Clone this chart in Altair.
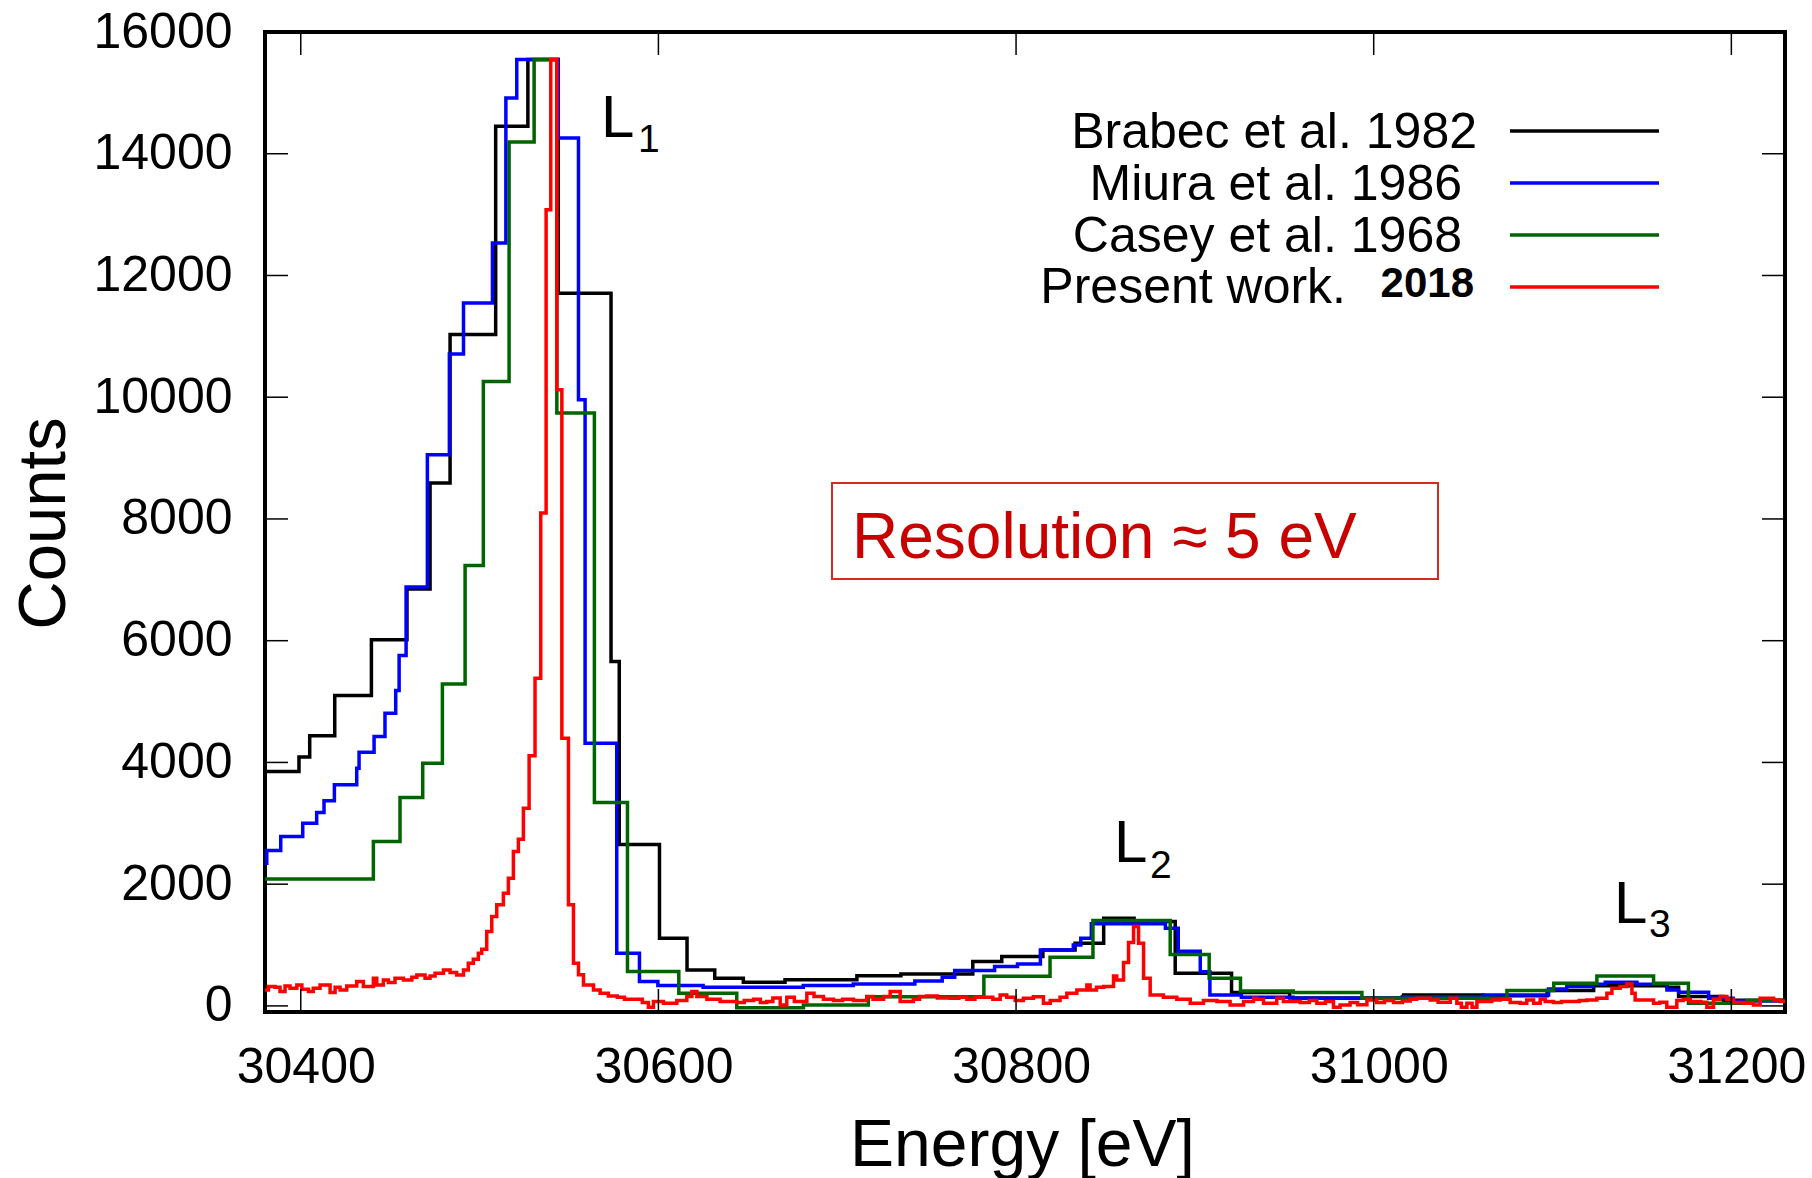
import altair as alt
import pandas as pd

# ---------------- data ----------------
# Brabec et al. 1982 : bin left edges (eV) and counts
BRABEC_E = [30370, 30399, 30405, 30419, 30439.5, 30459.4, 30472.3, 30483.5, 30509, 30527,
            30544, 30573.5, 30578.1, 30600.6, 30616, 30631.5, 30647.5, 30670.8, 30711, 30735.6,
            30775.8, 30792, 30815, 30833, 30849, 30866, 30889, 30920.5, 30953, 31016.7,
            31061, 31097, 31123, 31164, 31170.5, 31195.6, 31240]
BRABEC_C = [3850, 4090, 4440, 5100, 6015, 6848, 8590, 11030, 14450, 15550,
            11710, 5660, 2650, 1110, 590, 455, 390, 430, 495, 525,
            730, 810, 920, 1030, 1440, 1385, 537, 220, 130, 181,
            165, 252, 330, 307, 153, 95, 95]

# Miura et al. 1986
MIURA_E = [30370, 30381, 30388.8, 30401.1, 30408.9, 30413, 30418.8, 30431.3, 30432.6, 30441,
           30447.1, 30453.1, 30455, 30458.9, 30470.8, 30483.1, 30491, 30507.2, 30514.7, 30520.8,
           30544, 30555.3, 30559, 30576.7, 30589.4, 30599.7, 30625, 30681, 30709, 30743.4,
           30758.7, 30765.7, 30788, 30800.8, 30813.6, 30832, 30836.2, 30842.1, 30883.5, 30890.7,
           30903, 30908.4, 30926, 30955, 31016, 31061.4, 31097.8, 31108, 31122.9, 31129.5,
           31147.2, 31164, 31170.5, 31187.3, 31201, 31240]
MIURA_C = [2345, 2553, 2783, 3002, 3177, 3369, 3632, 3906, 4169, 4426,
           4810, 5182, 5757, 6881, 9055, 10710, 11548, 12534, 14917, 15550,
           14259, 9959, 4317, 866, 400, 334, 305, 334, 360, 411,
           470, 580, 646, 690, 920, 1002, 1112, 1350, 1277, 900,
           560, 181, 143, 126, 150, 181, 279, 318, 356, 389,
           356, 263, 225, 126, 80, 80]

# Casey et al. 1968
CASEY_E = [30370, 30440.6, 30455.5, 30468.2, 30479.2, 30491.9, 30502.1, 30516.5, 30530.5, 30543.2,
           30564.2, 30582.7, 30611.4, 30643.8, 30681.1, 30717.4, 30782, 30819, 30843, 30886.2,
           30908, 30925.5, 30955, 30993.4, 31074.5, 31100.7, 31124.8, 31156.5, 31176, 31208.7,
           31240]
CASEY_C = [2087, 2701, 3424, 3988, 5287, 7236, 10260, 14194, 15550, 9740,
           3341, 564, 209, -30, 16, 150, 487, 800, 1405, 845,
           455, 245, 219, 126, 252, 373, 493, 373, 44, 88,
           88]

# Present work 2018 (fine binning), in consecutive pieces
RED_E_LEFT = [30370, 30381.9, 30385.6, 30388.4, 30391.2, 30394, 30397.8, 30400.6, 30404.3, 30407,
              30410.8, 30416.4, 30419.2, 30422, 30425.7, 30431.3, 30435, 30440.6, 30442.5, 30446.2,
              30449, 30452.7, 30457.4, 30462.1, 30464.9, 30469.5, 30472.3, 30475.1, 30479.8, 30483.5,
              30487.2, 30491, 30493.7, 30496.5, 30499.3, 30501.2]
RED_C_LEFT = [263, 318, 307, 235, 329, 290, 345, 274, 235, 290,
              345, 219, 307, 263, 329, 400, 318, 455, 345, 427,
              384, 455, 427, 471, 509, 455, 493, 537, 592, 548,
              509, 592, 701, 767, 866, 931]
RED_E_L1 = [30504, 30506.8, 30509.6, 30513.3, 30516.1, 30518.9, 30521.7, 30524.5, 30527.7, 30531,
            30534.2, 30537.2, 30539.8, 30543.2, 30546, 30549.7, 30552.5, 30555.3, 30558.1, 30563.7]
RED_C_L1 = [1221, 1468, 1660, 1852, 2098, 2536, 2740, 3249, 4108, 5385,
            8096, 13081, 15550, 10123, 4399, 1660, 701, 510, 345, 263]
RED_E_MID = [30567.4, 30572, 30577, 30581, 30586, 30591, 30594.4, 30597.2, 30602.8, 30610.3,
             30615.9, 30618.7, 30621.5, 30627.1, 30634.5, 30643.8, 30648, 30653.2, 30657, 30660.6,
             30664, 30668.1, 30671.8, 30676, 30679.3, 30683, 30687, 30692.3, 30697.9, 30703,
             30709.1, 30716.5, 30720, 30725.9, 30729.6, 30735.2, 30742.6, 30746, 30750.1, 30756,
             30763.2, 30768, 30772.5, 30777, 30781.8, 30787]
RED_C_MID = [209, 164, 142, 110, 110, 55, -22, 71, 44, 88,
             153, 235, 153, 110, 71, 55, 88, 110, 55, 71,
             130, 16, 142, 71, 71, 208, 153, 110, 88, 110,
             88, 153, 110, 153, 235, 71, 110, 153, 164, 130,
             125, 142, 110, 142, 142, 110]
RED_E_L2 = [30791.1, 30794.8, 30799.5, 30804.1, 30809.7, 30815.3, 30819.1, 30824.6, 30828.4, 30834,
            30839.6, 30841.4, 30845, 30849, 30854.5, 30856.3, 30860.1, 30862.9, 30865.7, 30868.5,
            30871.3, 30875, 30882.4, 30889.9, 30897.4, 30904.8, 30912.3, 30919.7, 30927.2, 30932.8]
RED_C_L2 = [181, 142, 88, 126, 150, 44, 88, 142, 208, 263,
            345, 263, 307, 320, 493, 427, 712, 1041, 1304, 1030,
            455, 181, 142, 110, 44, 88, 71, 16, 71, 126]
RED_E_RIGHT = [30934.6, 30938.4, 30945.8, 30949.5, 30958.9, 30964, 30968.2, 30973, 30977.5, 30981.2,
               30986.8, 30991, 30996.2, 31001.7, 31006, 31011.1, 31016, 31020.4, 31024, 31027.8,
               31031.6, 31036, 31042.8, 31046.5, 31049, 31052.1, 31055, 31057.7, 31061.4, 31066,
               31070.7, 31076.3]
RED_C_RIGHT = [110, 44, 126, 71, 55, 90, 44, 71, -22, 16,
               55, 20, 99, 55, 88, 55, 80, 110, 126, 126,
               99, 60, 126, 44, -22, 44, -22, 71, 71, 99,
               110, 55]
RED_E_L3 = [31081.9, 31085.6, 31089.4, 31093.1, 31095.9, 31100.5, 31105, 31109.9, 31115, 31119.2,
            31124.8, 31130.4, 31133.2, 31137.8, 31141.6, 31144.4, 31146.2, 31150.9, 31156.5, 31160,
            31163.9, 31169.5, 31173.2, 31177, 31183, 31186.3, 31190, 31193.8, 31197.5, 31201.2,
            31207, 31212.4, 31216.1, 31223.6, 31227.3, 31240]
RED_C_L3 = [44, 99, 44, 110, 71, 55, 71, 71, 90, 99,
            126, 208, 290, 318, 362, 208, 99, 99, 44, 60,
            -22, 88, 110, 71, 60, -22, 110, 153, 110, 55,
            44, 16, 126, 99, 71, 71]

RED_E = RED_E_LEFT + RED_E_L1 + RED_E_MID + RED_E_L2 + RED_E_RIGHT + RED_E_L3
RED_C = RED_C_LEFT + RED_C_L1 + RED_C_MID + RED_C_L2 + RED_C_RIGHT + RED_C_L3

SERIES = ["Brabec et al. 1982", "Miura et al. 1986", "Casey et al. 1968", "Present work."]
COLORS = ["#000000", "#0000ff", "#006400", "#ff0000"]
X_TICKS = [30400, 30600, 30800, 31000, 31200]
Y_TICKS = [0, 2000, 4000, 6000, 8000, 10000, 12000, 14000, 16000]
X_DOMAIN = [30380, 31230]
Y_DOMAIN = [-100, 16000]

# ---------------- layout ----------------
FONT = "Liberation Sans"
LEFT, TOP = 265, 32
W, H = 1520, 980
TICK = 23

xs = alt.Scale(domain=X_DOMAIN, nice=False, zero=False)
ys = alt.Scale(domain=Y_DOMAIN, nice=False, zero=False)
xaxis = alt.Axis(values=X_TICKS, format="d", title="Energy [eV]", grid=False, domain=False,
                 ticks=False, tickSize=0, labelFontSize=50, labelFont=FONT, labelColor="black",
                 labelPadding=30, labelOffset=5, labelFlush=False, labelOverlap=False,
                 titleFont=FONT, titleFontSize=66, titleFontWeight="normal", titleColor="black",
                 titleX=757, titleY=153, titleBaseline="alphabetic", titleAlign="center")
yaxis = alt.Axis(values=Y_TICKS, format="d", title="Counts", grid=False, domain=False,
                 ticks=False, tickSize=0, labelFontSize=50, labelFont=FONT, labelColor="black",
                 labelPadding=33, labelFlush=False, labelOverlap=False,
                 titleFont=FONT, titleFontSize=67, titleFontWeight="normal", titleColor="black",
                 titleAngle=270, titleX=-201, titleY=491, titleBaseline="alphabetic",
                 titleAlign="center")
X = alt.X("E:Q", scale=xs, axis=xaxis)
Y = alt.Y("C:Q", scale=ys, axis=yaxis)

layers = []
for E, C, col in [(BRABEC_E, BRABEC_C, COLORS[0]), (MIURA_E, MIURA_C, COLORS[1]),
                  (CASEY_E, CASEY_C, COLORS[2]), (RED_E, RED_C, COLORS[3])]:
    assert len(E) == len(C)
    df = pd.DataFrame({"E": E, "C": C})
    layers.append(
        alt.Chart(df).mark_line(interpolate="step-after", strokeWidth=3.5, color=col,
                                clip=True, strokeJoin="miter", strokeCap="butt")
        .encode(x=X, y=Y)
    )

# inward ticks on all four sides
xt = pd.DataFrame({"E": X_TICKS})
yt = pd.DataFrame({"C": Y_TICKS})
layers.append(alt.Chart(xt).mark_rule(color="black", strokeWidth=1.5)
              .encode(x=X, y=alt.value(H), y2=alt.value(H - TICK)))
layers.append(alt.Chart(xt).mark_rule(color="black", strokeWidth=1.5)
              .encode(x=X, y=alt.value(0), y2=alt.value(TICK)))
layers.append(alt.Chart(yt).mark_rule(color="black", strokeWidth=1.5)
              .encode(y=Y, x=alt.value(0), x2=alt.value(TICK)))
layers.append(alt.Chart(yt).mark_rule(color="black", strokeWidth=1.5)
              .encode(y=Y, x=alt.value(W), x2=alt.value(W - TICK)))

# legend (text right of which a sample line is drawn)
LEG_RIGHT = [1477, 1462, 1462, 1346]
LEG_BASE = [148, 200, 252, 303]
LEG_LINE_Y = [131, 183, 235, 287]
for i, lab in enumerate(SERIES):
    layers.append(
        alt.Chart(pd.DataFrame({"t": [lab]})).mark_text(
            align="right", baseline="alphabetic", font=FONT, fontSize=50, color="black")
        .encode(text="t:N", x=alt.value(LEG_RIGHT[i] - LEFT), y=alt.value(LEG_BASE[i] - TOP))
    )
    layers.append(
        alt.Chart(pd.DataFrame({"t": [lab]})).mark_rule(color=COLORS[i], strokeWidth=3.5)
        .encode(x=alt.value(1510 - LEFT), x2=alt.value(1659 - LEFT),
                y=alt.value(LEG_LINE_Y[i] - TOP))
    )
layers.append(
    alt.Chart(pd.DataFrame({"t": ["2018"]})).mark_text(
        align="right", baseline="alphabetic", font=FONT, fontSize=42, fontWeight="bold",
        color="black")
    .encode(text="t:N", x=alt.value(1474 - LEFT), y=alt.value(297 - TOP))
)

# resolution annotation box
layers.append(
    alt.Chart(pd.DataFrame({"t": ["box"]})).mark_rect(filled=False, stroke="#d42a20",
                                                       strokeWidth=2)
    .encode(x=alt.value(832 - LEFT), x2=alt.value(1438 - LEFT),
            y=alt.value(483 - TOP), y2=alt.value(579 - TOP))
)
layers.append(
    alt.Chart(pd.DataFrame({"t": ["Resolution \u2248 5 eV"]})).mark_text(
        align="left", baseline="alphabetic", font=FONT, fontSize=64, color="#c80000")
    .encode(text="t:N", x=alt.value(852 - LEFT), y=alt.value(558 - TOP))
)

# peak labels L1, L2, L3 with subscripts
PEAK_LABELS = [("L", "1", 601, 137, 638, 152), ("L", "2", 1114, 862, 1150, 878),
               ("L", "3", 1614, 923, 1649, 937)]
for main, sub, mx, my, sx, sy in PEAK_LABELS:
    layers.append(
        alt.Chart(pd.DataFrame({"t": [main]})).mark_text(
            align="left", baseline="alphabetic", font=FONT, fontSize=60, color="black")
        .encode(text="t:N", x=alt.value(mx - LEFT), y=alt.value(my - TOP))
    )
    layers.append(
        alt.Chart(pd.DataFrame({"t": [sub]})).mark_text(
            align="left", baseline="alphabetic", font=FONT, fontSize=39, color="black")
        .encode(text="t:N", x=alt.value(sx - LEFT), y=alt.value(sy - TOP))
    )

chart = (
    alt.layer(*layers)
    .properties(width=W, height=H,
                padding={"left": LEFT, "top": TOP, "right": 1812 - LEFT - W,
                         "bottom": 1178 - TOP - H},
                autosize=alt.AutoSizeParams(type="none"),
                background="white")
    .configure_view(stroke="black", strokeWidth=4)
)

chart.save("out.html", embed_options={"renderer": "svg", "actions": False})
